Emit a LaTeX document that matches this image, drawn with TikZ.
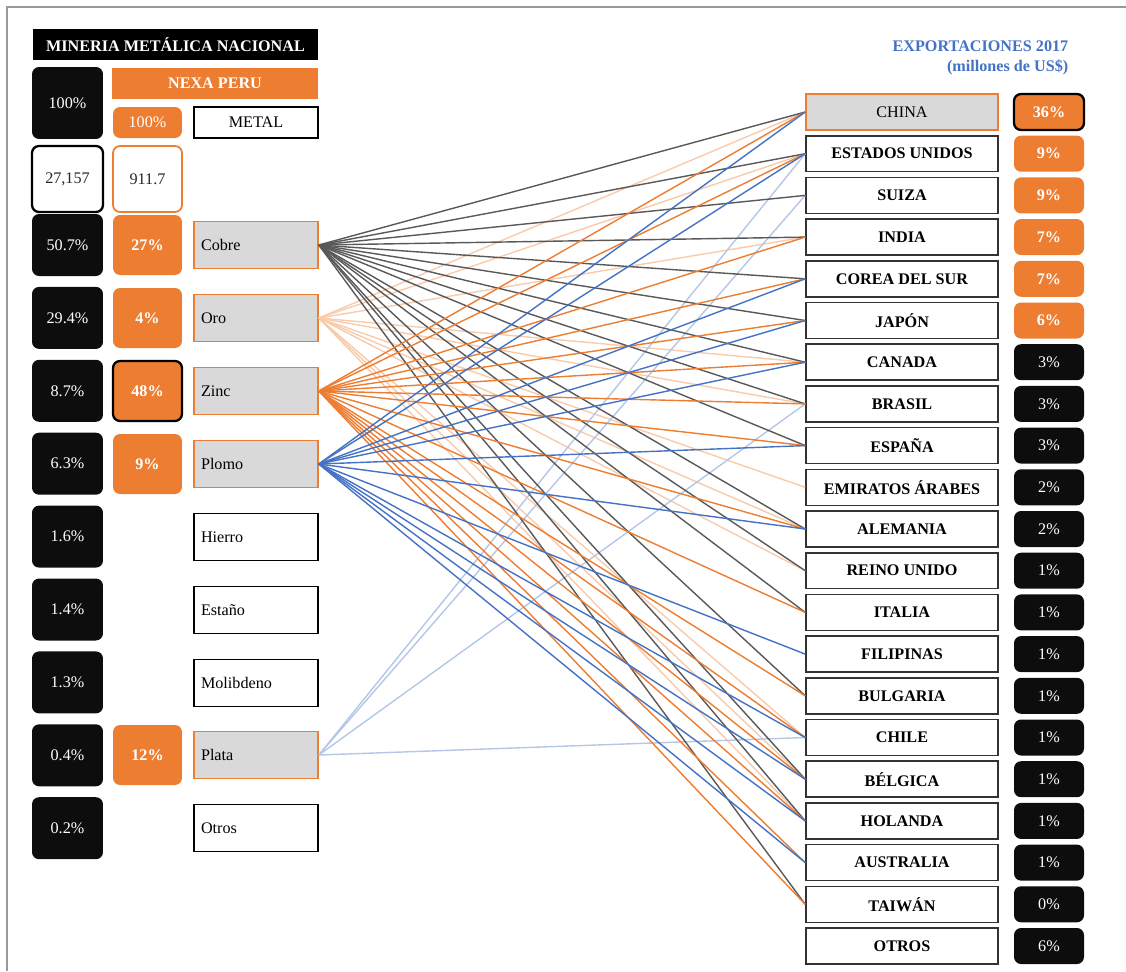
\documentclass[tikz,border=0pt]{standalone}
\usepackage{fontspec}
\setmainfont{Liberation Serif}
\usetikzlibrary{positioning}
\definecolor{naranja}{HTML}{ED7D31}
\definecolor{durazno}{HTML}{F8CBAD}
\definecolor{azul}{HTML}{4472C4}
\definecolor{celeste}{HTML}{B4C7E7}
\definecolor{plomizo}{HTML}{595959}
\definecolor{gris}{HTML}{D9D9D9}
\definecolor{negro}{HTML}{0D0D0D}
\tikzset{
  nac/.style={rectangle, rounded corners=4pt, fill=negro, text=white, minimum width=1.42cm, minimum height=1.24cm, inner sep=0pt},
  nexa/.style={rectangle, rounded corners=4pt, fill=naranja, text=white, font=\bfseries, minimum width=1.38cm, minimum height=1.2cm, inner sep=0pt},
  metal/.style={rectangle, draw=black, line width=0.6pt, fill=white, minimum height=0.94cm, inner xsep=0.14cm, inner ysep=0pt, text width=2.2cm, align=left},
  metalhi/.style={metal, draw=naranja, line width=0.9pt, fill=gris},
  pais/.style={rectangle, draw=black!80, line width=0.9pt, fill=white, font=\bfseries, minimum width=3.84cm, minimum height=0.72cm, inner sep=0pt},
  pct/.style={rectangle, rounded corners=4pt, fill=negro, text=white, minimum width=1.4cm, minimum height=0.72cm, inner sep=0pt},
  pcthi/.style={pct, fill=naranja, font=\bfseries},
  marco/.style={draw=black, line width=1.3pt},
  cu/.style={plomizo, line width=0.8pt},
  au/.style={durazno, line width=0.8pt},
  zn/.style={naranja, line width=0.8pt},
  pb/.style={azul, line width=0.8pt},
  ag/.style={celeste, line width=0.8pt}
}
\begin{document}
\fontsize{9.2}{11}\selectfont
\begin{tikzpicture}[x=0.02cm, y=-0.02cm]
\useasboundingbox (0,0) rectangle (1126,971);
\draw[gray!80, line width=0.9pt] (7,971) -- (7,7) -- (1126,7);
% cabecera izquierda
\node[fill=black, text=white, font=\bfseries, minimum width=5.7cm, minimum height=0.62cm, inner sep=0pt] (titulo) at (175.5,44.5) {MINERIA METÁLICA NACIONAL};
\node[fill=naranja, text=white, font=\bfseries, minimum width=4.12cm, minimum height=0.62cm, inner sep=0pt] (nexaperu) at (215,83.5) {NEXA PERU};
\node[nac, minimum height=1.44cm] (total) at (67.5,103) {100\%};
\node[nexa, font=\normalfont, minimum height=0.62cm] (nexatotal) at (147.5,122.5) {100\%};
\node[rectangle, draw=black, line width=0.6pt, minimum width=2.48cm, minimum height=0.62cm, inner sep=0pt] (metalcab) at (256,122.5) {METAL};
\node[nac, fill=white, text=black!85, marco, minimum height=1.32cm] (valor) at (67.5,179) {27,157};
\node[nexa, fill=white, text=black!85, font=\normalfont, draw=naranja, line width=1pt, minimum height=1.32cm] (valornexa) at (147.5,179) {911.7};
% filas de metales
\foreach \v [count=\i from 0] in {50.7,29.4,8.7,6.3,1.6,1.4,1.3,0.4,0.2}
  \node[nac] (nac\i) at (67.5,245+72.9*\i) {\v\%};
\node[nexa] (nexacu) at (147.5,245) {27\%};
\node[nexa] (nexaau) at (147.5,318) {4\%};
\node[nexa, marco] (nexazn) at (147.5,391) {48\%};
\node[nexa] (nexapb) at (147.5,464) {9\%};
\node[nexa] (nexaag) at (147.5,755) {12\%};
\node[metalhi] (cobre) at (256,245) {Cobre};
\node[metalhi] (oro) at (256,318) {Oro};
\node[metalhi] (zinc) at (256,391) {Zinc};
\node[metalhi] (plomo) at (256,464) {Plomo};
\node[metal] (hierro) at (256,537) {Hierro};
\node[metal] (estano) at (256,610) {Estaño};
\node[metal] (molibdeno) at (256,683) {Molibdeno};
\node[metalhi] (plata) at (256,755) {Plata};
\node[metal] (otrosm) at (256,828) {Otros};
% destinos
\node[text=azul, font=\bfseries, align=right, anchor=east] (export) at (1074,58) {EXPORTACIONES 2017\\(millones de US\$)};
\node[pais, fill=gris, draw=naranja, font=\normalfont] (china) at (902,112) {CHINA};
\node[pcthi, marco] (pchina) at (1049,112) {36\%};
\foreach \n/\t/\p [count=\i] in {eeuu/ESTADOS UNIDOS/9,suiza/SUIZA/9,india/INDIA/7,corea/COREA DEL SUR/7,japon/JAPÓN/6}
  \node[pais] (\n) at (902,112+41.7*\i) {\t};
\foreach \p [count=\i] in {9,9,7,7,6}
  \node[pcthi] (pnexa\i) at (1049,112+41.7*\i) {\p\%};
\foreach \n/\t [count=\i from 6] in {canada/CANADA,brasil/BRASIL,espana/ESPAÑA,emiratos/EMIRATOS ÁRABES,alemania/ALEMANIA,reino/REINO UNIDO,italia/ITALIA,filipinas/FILIPINAS,bulgaria/BULGARIA,chile/CHILE,belgica/BÉLGICA,holanda/HOLANDA,australia/AUSTRALIA,taiwan/TAIWÁN,otros/OTROS}
  \node[pais] (\n) at (902,112+41.7*\i) {\t};
\foreach \p [count=\i from 6] in {3,3,3,2,2,1,1,1,1,1,1,1,1,0,6}
  \node[pct] (pdest\i) at (1049,112+41.7*\i) {\p\%};
% conexiones
\foreach \c in {china,eeuu,india,canada,brasil,emiratos,alemania,reino,chile,belgica,holanda}
  \draw[au] (oro.east) -- (\c.west);
\foreach \c in {eeuu,suiza,brasil,chile}
  \draw[ag] (plata.east) -- (\c.west);
\foreach \c in {china,eeuu,suiza,india,corea,japon,canada,brasil,espana,alemania,reino,italia,bulgaria,belgica,holanda,taiwan}
  \draw[cu] (cobre.east) -- (\c.west);
\foreach \c in {china,eeuu,india,corea,japon,canada,brasil,espana,alemania,italia,bulgaria,chile,belgica,holanda,australia,taiwan}
  \draw[zn] (zinc.east) -- (\c.west);
\foreach \c in {china,eeuu,corea,japon,canada,espana,alemania,filipinas,chile,belgica,holanda,australia}
  \draw[pb] (plomo.east) -- (\c.west);
\end{tikzpicture}
\end{document}
